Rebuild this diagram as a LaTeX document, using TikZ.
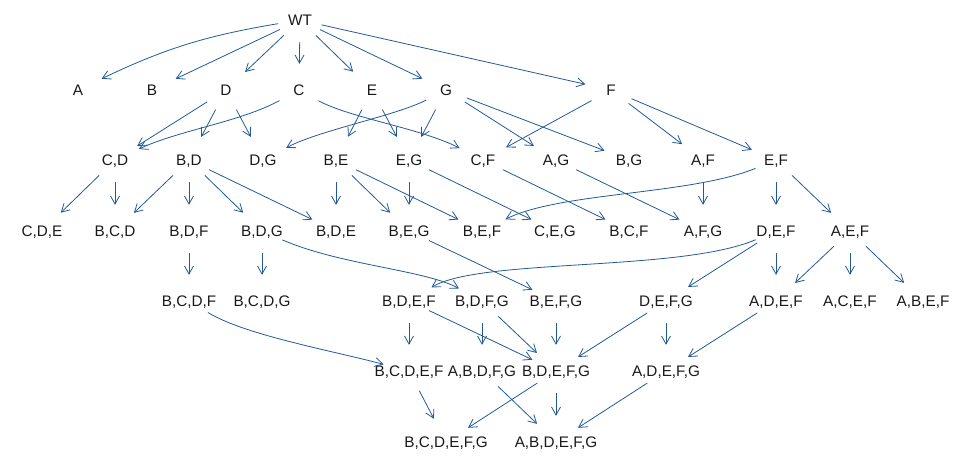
\documentclass[tikz,border=0pt]{standalone}
\usepackage{fontspec}
\setmainfont{Liberation Sans}
\usetikzlibrary{arrows.meta}
\definecolor{edgeblue}{RGB}{35,90,150}
\newcommand\nlab[1]{\makebox[0pt]{#1}}
\begin{document}
\begin{tikzpicture}[x=1pt,y=-1pt,
  vtx/.style={circle,minimum size=44pt,inner sep=0pt,text height=10.8pt,text depth=0pt,
    text=black!90,font=\fontsize{15.3}{18}\selectfont},
  conn/.style={draw=edgeblue,line width=0.8pt,-{Straight Barb[length=8pt,width=9pt]},shorten >=4pt}]
\useasboundingbox (0,0) rectangle (977,462);
% row 0
\node[vtx] (WT) at (300,20) {\nlab{WT}};
% row 1
\node[vtx] (A) at (78,90) {\nlab{A}};
\node[vtx] (B) at (152,90) {\nlab{B}};
\node[vtx] (D) at (226,90) {\nlab{D}};
\node[vtx] (C) at (299,90) {\nlab{C}};
\node[vtx] (E) at (372,90) {\nlab{E}};
\node[vtx] (G) at (446,90) {\nlab{G}};
\node[vtx] (F) at (611,90) {\nlab{F}};
% row 2
\node[vtx] (CD) at (115,160) {\nlab{C,D}};
\node[vtx] (BD) at (189,160) {\nlab{B,D}};
\node[vtx] (DG) at (263,160) {\nlab{D,G}};
\node[vtx] (BE) at (336,160) {\nlab{B,E}};
\node[vtx] (EG) at (409,160) {\nlab{E,G}};
\node[vtx] (CF) at (483,160) {\nlab{C,F}};
\node[vtx] (AG) at (556,160) {\nlab{A,G}};
\node[vtx] (BG) at (629,160) {\nlab{B,G}};
\node[vtx] (AF) at (703,160) {\nlab{A,F}};
\node[vtx] (EF) at (776,160) {\nlab{E,F}};
% row 3
\node[vtx] (CDE) at (42,231) {\nlab{C,D,E}};
\node[vtx] (BCD) at (115,231) {\nlab{B,C,D}};
\node[vtx] (BDF) at (189,231) {\nlab{B,D,F}};
\node[vtx] (BDG) at (262,231) {\nlab{B,D,G}};
\node[vtx] (BDE) at (336,231) {\nlab{B,D,E}};
\node[vtx] (BEG) at (409,231) {\nlab{B,E,G}};
\node[vtx] (BEF) at (482,231) {\nlab{B,E,F}};
\node[vtx] (CEG) at (555,231) {\nlab{C,E,G}};
\node[vtx] (BCF) at (629,231) {\nlab{B,C,F}};
\node[vtx] (AFG) at (703,231) {\nlab{A,F,G}};
\node[vtx] (DEF) at (776,231) {\nlab{D,E,F}};
\node[vtx] (AEF) at (850,231) {\nlab{A,E,F}};
% row 4
\node[vtx] (BCDF) at (189,301) {\nlab{B,C,D,F}};
\node[vtx] (BCDG) at (262,301) {\nlab{B,C,D,G}};
\node[vtx] (BDEF) at (409,301) {\nlab{B,D,E,F}};
\node[vtx] (BDFG) at (482,301) {\nlab{B,D,F,G}};
\node[vtx] (BEFG) at (556,301) {\nlab{B,E,F,G}};
\node[vtx] (DEFG) at (666,301) {\nlab{D,E,F,G}};
\node[vtx] (ADEF) at (776,301) {\nlab{A,D,E,F}};
\node[vtx] (ACEF) at (850,301) {\nlab{A,C,E,F}};
\node[vtx] (ABEF) at (923,301) {\nlab{A,B,E,F}};
% row 5
\node[vtx] (BCDEF) at (409,371) {\nlab{B,C,D,E,F}};
\node[vtx] (ABDFG) at (482,371) {\nlab{A,B,D,F,G}};
\node[vtx] (BDEFG) at (556,371) {\nlab{B,D,E,F,G}};
\node[vtx] (ADEFG) at (666,371) {\nlab{A,D,E,F,G}};
% row 6
\node[vtx] (BCDEFG) at (446,442) {\nlab{B,C,D,E,F,G}};
\node[vtx] (ABDEFG) at (556,442) {\nlab{A,B,D,E,F,G}};

% edges from WT
\draw[conn] (WT) to[bend right=8] (A);
\draw[conn] (WT) -- (B);
\draw[conn] (WT) -- (D);
\draw[conn] (WT) -- (C);
\draw[conn] (WT) -- (E);
\draw[conn] (WT) -- (G);
\draw[conn] (WT) -- (F);
% row 1 -> 2
\draw[conn] (D) -- (CD);
\draw[conn] (D) -- (BD);
\draw[conn] (D) -- (DG);
\draw[conn] (C) .. controls (240,122) and (180,130) .. (CD);
\draw[conn] (C) .. controls (350,118) and (420,128) .. (CF);
\draw[conn] (E) -- (BE);
\draw[conn] (E) -- (EG);
\draw[conn] (G) .. controls (395,116) and (320,130) .. (DG);
\draw[conn] (G) -- (EG);
\draw[conn] (G) -- (AG);
\draw[conn] (G) -- (BG);
\draw[conn] (F) -- (CF);
\draw[conn] (F) -- (AF);
\draw[conn] (F) -- (EF);
% row 2 -> 3
\draw[conn] (CD) -- (CDE);
\draw[conn] (CD) -- (BCD);
\draw[conn] (BD) -- (BCD);
\draw[conn] (BD) -- (BDF);
\draw[conn] (BD) -- (BDG);
\draw[conn] (BD) -- (BDE);
\draw[conn] (BE) -- (BDE);
\draw[conn] (BE) -- (BEG);
\draw[conn] (BE) -- (BEF);
\draw[conn] (EG) -- (BEG);
\draw[conn] (EG) -- (CEG);
\draw[conn] (CF) -- (BCF);
\draw[conn] (AG) -- (AFG);
\draw[conn] (AF) -- (AFG);
\draw[conn] (EF) .. controls (690,195) and (560,192) .. (BEF);
\draw[conn] (EF) -- (DEF);
\draw[conn] (EF) -- (AEF);
% row 3 -> 4
\draw[conn] (BDF) -- (BCDF);
\draw[conn] (BDG) -- (BCDG);
\draw[conn] (BDG) .. controls (340,265) and (425,270) .. (BDFG);
\draw[conn] (BEG) -- (BEFG);
\draw[conn] (DEF) .. controls (680,272) and (480,258) .. (BDEF);
\draw[conn] (DEF) -- (DEFG);
\draw[conn] (DEF) -- (ADEF);
\draw[conn] (AEF) -- (ADEF);
\draw[conn] (AEF) -- (ACEF);
\draw[conn] (AEF) -- (ABEF);
% row 4 -> 5
\draw[conn] (BCDF) .. controls (245,335) and (329,350) .. (BCDEF);
\draw[conn] (BDEF) -- (BCDEF);
\draw[conn] (BDEF) -- (BDEFG);
\draw[conn] (BDFG) -- (ABDFG);
\draw[conn] (BDFG) -- (BDEFG);
\draw[conn] (BEFG) -- (BDEFG);
\draw[conn] (DEFG) -- (BDEFG);
\draw[conn] (DEFG) -- (ADEFG);
\draw[conn] (ADEF) -- (ADEFG);
% row 5 -> 6
\draw[conn] (BCDEF) -- (BCDEFG);
\draw[conn] (BDEFG) -- (BCDEFG);
\draw[conn] (BDEFG) -- (ABDEFG);
\draw[conn] (ABDFG) -- (ABDEFG);
\draw[conn] (ADEFG) -- (ABDEFG);
\end{tikzpicture}
\end{document}
